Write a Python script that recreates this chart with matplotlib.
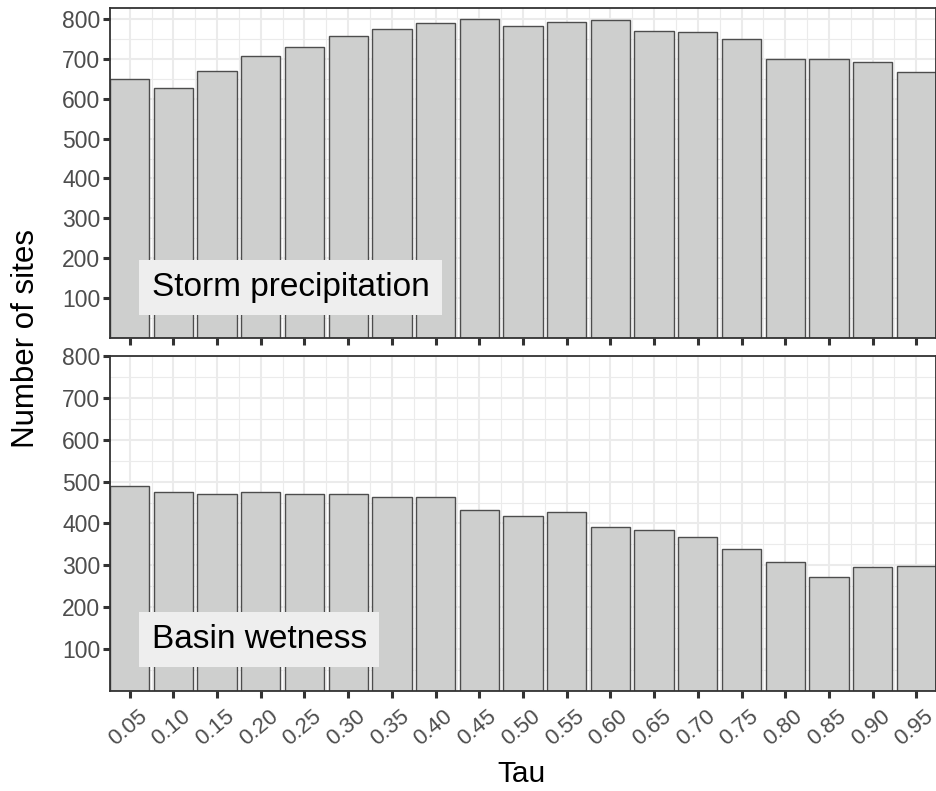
import matplotlib
matplotlib.use("Agg")
import matplotlib.pyplot as plt
from matplotlib.ticker import MultipleLocator, FixedLocator
from matplotlib.transforms import ScaledTranslation
import numpy as np

plt.rcParams['font.family'] = ['Liberation Sans', 'DejaVu Sans']

tau_labels = ["0.05", "0.10", "0.15", "0.20", "0.25", "0.30", "0.35", "0.40", "0.45", "0.50",
              "0.55", "0.60", "0.65", "0.70", "0.75", "0.80", "0.85", "0.90", "0.95"]
storm_precip = [651, 628, 670, 708, 730, 758, 775, 791, 801, 783,
                793, 798, 771, 769, 751, 701, 700, 694, 667]
basin_wetness = [490, 476, 470, 475, 470, 470, 462, 462, 432, 419,
                 428, 392, 385, 367, 339, 307, 273, 296, 298]
panel_labels = ["Storm precipitation", "Basin wetness"]
y_ticks = [100, 200, 300, 400, 500, 600, 700, 800]
y_tops = [830, 801]

fig = plt.figure(figsize=(9.37, 7.91), dpi=100)
W, H = 937, 791
ax_top = fig.add_axes([110 / W, 1 - 337.5 / H, 826 / W, 330 / H])
ax_bot = fig.add_axes([110 / W, 1 - 691 / H, 826 / W, 335.5 / H])

x = np.arange(1, len(tau_labels) + 1)
for ax, vals, lab, ytop, ylab in zip([ax_top, ax_bot], [storm_precip, basin_wetness],
                                     panel_labels, y_tops, [104, 103]):
    ax.set_axisbelow(True)
    ax.bar(x, vals, width=0.9, color="#CECFCE", edgecolor="#4D4D4D", linewidth=1.0, zorder=2)
    ax.set_xlim(0.55, len(tau_labels) + 0.45)
    ax.set_ylim(0, ytop)
    ax.yaxis.set_major_locator(FixedLocator(y_ticks))
    ax.yaxis.set_minor_locator(MultipleLocator(50))
    ax.xaxis.set_major_locator(FixedLocator(x))
    ax.xaxis.set_minor_locator(FixedLocator(x[:-1] + 0.5))
    ax.grid(which="major", color="#EBEBEB", linewidth=1.5, zorder=0)
    ax.grid(which="minor", color="#EBEBEB", linewidth=0.8, zorder=0)
    for s in ax.spines.values():
        s.set_color("#333333")
        s.set_linewidth(1.3)
    ax.tick_params(which="major", length=5, width=2.2, color="#333333",
                   labelsize=16.5, labelcolor="#4D4D4D", pad=2)
    ax.tick_params(which="minor", length=0)
    ax.text(1.5, ylab, lab, fontsize=24, color="black", ha="left", va="baseline", zorder=5,
            bbox=dict(boxstyle="square,pad=0.37", facecolor="#EEEEEE", edgecolor="none"))

ax_top.set_xticklabels([])
ax_bot.set_xticklabels(tau_labels, rotation=40, ha="center", va="top", fontsize=16)
ax_bot.tick_params(axis="x", pad=6)
shift = ScaledTranslation(-2 / 100, 0, fig.dpi_scale_trans)
for t in ax_bot.get_xticklabels():
    t.set_transform(t.get_transform() + shift)

fig.text(26 / W, 1 - 338 / H, "Number of sites", rotation=90, ha="center", va="center", fontsize=22.5)
fig.text(522 / W, 1 - 774 / H, "Tau", ha="center", va="center", fontsize=21.5)

fig.savefig("out.png", dpi=100)
